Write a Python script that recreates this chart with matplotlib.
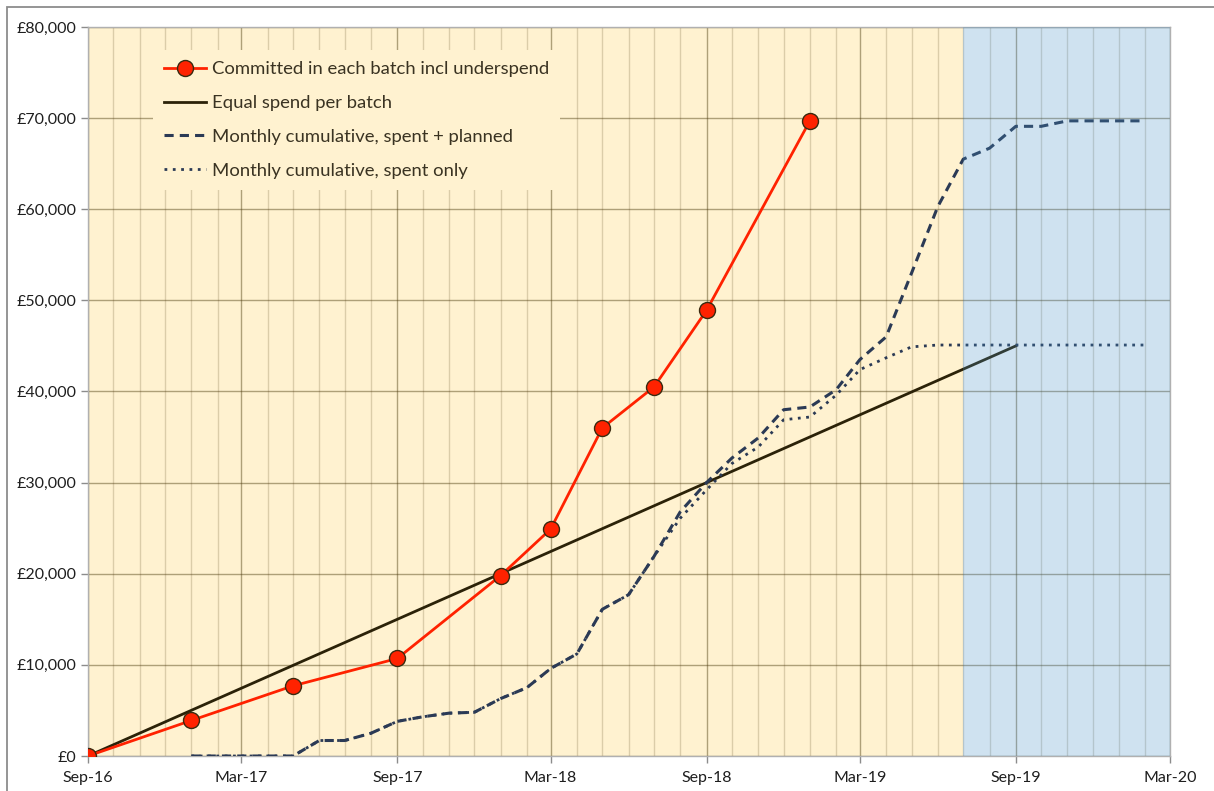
import matplotlib
matplotlib.use("Agg")
import matplotlib.pyplot as plt
import matplotlib.dates as mdates
from matplotlib.ticker import FuncFormatter, MultipleLocator
from matplotlib.patches import Rectangle
import pandas as pd

plt.rcParams['font.family'] = ['Lato', 'DejaVu Sans']

# committed in each batch (red markers)
batch_dates = ["2016-09-01", "2017-01-01", "2017-05-01", "2017-09-01", "2018-01-01",
               "2018-03-01", "2018-05-01", "2018-07-01", "2018-09-01", "2019-01-01"]
batch_committed = [0, 3900, 7700, 10700, 19800, 24900, 36000, 40500, 48900, 69700]

# equal spend per batch
equal_dates = ["2016-09-01", "2019-09-01"]
equal_spend = [0, 45000]

# monthly cumulative, Jan-17 .. Feb-20
monthly_dates = pd.date_range("2017-01-01", "2020-02-01", freq="MS")
spent_planned = [0, 0, 0, 0, 0, 1700, 1700, 2500, 3800, 4300, 4700, 4800,
                 6300, 7500, 9600, 11200, 16100, 17700, 21900, 26800, 30000, 32700, 34900, 38000,
                 38300, 40200, 43500, 46000, 53000, 60300, 65500, 66700, 69100, 69100, 69700, 69700,
                 69700, 69700]
spent_only = [0, 0, 0, 0, 0, 1700, 1700, 2500, 3800, 4300, 4700, 4800,
              6300, 7500, 9600, 11200, 16100, 17700, 21900, 26100, 29200, 32100, 33900, 36900,
              37200, 39600, 42400, 43700, 44900, 45100, 45100, 45100, 45100, 45100, 45100, 45100,
              45100, 45100]

start = pd.Timestamp("2016-09-01")
forecast_start = pd.Timestamp("2019-07-01")
end = pd.Timestamp("2020-03-01")

fig = plt.figure(figsize=(12.14, 7.91), dpi=100)
ax = fig.add_axes([88 / 1214, 1 - 756 / 791, (1170 - 88) / 1214, (756 - 27) / 791])

# outer chart border (cropped on right / bottom like the original)
fig.patches.append(Rectangle((7 / 1214, -0.05), 1.2, 1 - 7 / 791 + 0.05, transform=fig.transFigure,
                             fill=False, edgecolor="#8c8c8c", linewidth=1.3))

# yellow background for actual period
ax.axvspan(start, forecast_start, color="#fff2d0", lw=0, zorder=0)

ax.plot(pd.to_datetime(equal_dates), equal_spend, color="#2b2208", lw=2.0, zorder=3,
        label="Equal spend per batch")
ax.plot(monthly_dates, spent_only, color="#2b3a55", lw=2.0, linestyle=(0, (1, 2.0)), zorder=3,
        label="Monthly cumulative, spent only")
ax.plot(monthly_dates, spent_planned, color="#2b3a55", lw=2.2, linestyle=(0, (3, 2)), zorder=3,
        label="Monthly cumulative, spent + planned")
ax.plot(pd.to_datetime(batch_dates), batch_committed, color="#ff2200", lw=2.0, marker="o",
        markersize=11.5, markerfacecolor="#ff2200", markeredgecolor="#3a2a10", markeredgewidth=1.0,
        zorder=4, label="Committed in each batch incl underspend")

# blue forecast region drawn over the lines, semi-transparent
ax.axvspan(forecast_start, end, color=(67 / 255, 143 / 255, 199 / 255), alpha=0.25, lw=0, zorder=6)

ax.set_xlim(start, end)
ax.set_ylim(0, 80000)

ax.xaxis.set_major_locator(mdates.MonthLocator(bymonth=(3, 9)))
ax.xaxis.set_minor_locator(mdates.MonthLocator())
ax.xaxis.set_major_formatter(mdates.DateFormatter("%b-%y"))
ax.yaxis.set_major_locator(MultipleLocator(10000))
ax.yaxis.set_major_formatter(FuncFormatter(lambda v, p: "£{:,.0f}".format(v)))

grid_rgb = (77 / 255, 60 / 255, 14 / 255)
ax.set_axisbelow(True)
ax.grid(which="major", axis="both", color=grid_rgb, alpha=0.45, lw=1.0)
ax.grid(which="minor", axis="x", color=grid_rgb, alpha=0.2, lw=1.0)

ax.tick_params(axis="both", which="major", labelsize=11.5, labelcolor="#1e1e1e",
               color="#8c8c8c", length=5, width=1)
ax.tick_params(axis="x", which="minor", length=0)
ax.tick_params(axis="x", pad=6)
for s in ax.spines.values():
    s.set_color("#b0b0b0")
    s.set_linewidth(1.0)

handles, labels = ax.get_legend_handles_labels()
order = [3, 0, 2, 1]
leg = ax.legend([handles[i] for i in order], [labels[i] for i in order],
                loc="upper left", bbox_to_anchor=(0.06, 0.968), borderaxespad=0,
                fontsize=13.3, handlelength=2.3, handletextpad=0.3, labelspacing=0.96,
                frameon=True, facecolor="#fff2d0", edgecolor="none", framealpha=1,
                fancybox=False, borderpad=0.6)
leg.set_zorder(10)
for t in leg.get_texts():
    t.set_color("#3a3322")

fig.savefig("out.png", dpi=100)
